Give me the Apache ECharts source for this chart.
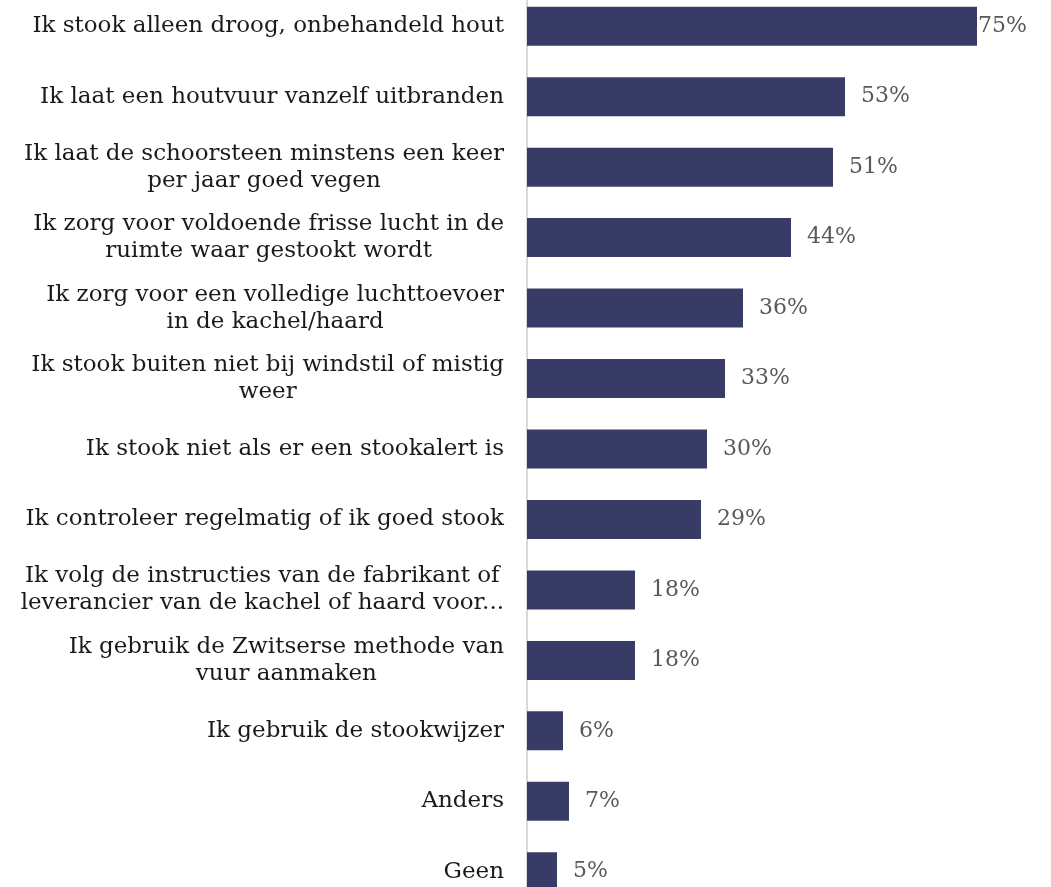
<!DOCTYPE html>
<html>
<head>
<meta charset="utf-8">
<script src="https://cdn.jsdelivr.net/npm/echarts@6/dist/echarts.min.js"></script>
<style>
html,body{margin:0;padding:0;background:#fff;overflow:hidden;width:1051px;height:887px;}
#chart{width:1127px;height:916px;position:absolute;left:0;top:-9px;}
</style>
</head>
<body>
<div id="chart"></div>
<script>
const categories = [
  "Ik stook alleen droog, onbehandeld hout",
  "Ik laat een houtvuur vanzelf uitbranden",
  "Ik laat de schoorsteen minstens een keer\nper jaar goed vegen",
  "Ik zorg voor voldoende frisse lucht in de\nruimte waar gestookt wordt",
  "Ik zorg voor een volledige luchttoevoer\nin de kachel/haard",
  "Ik stook buiten niet bij windstil of mistig\nweer",
  "Ik stook niet als er een stookalert is",
  "Ik controleer regelmatig of ik goed stook",
  "Ik volg de instructies van de fabrikant of\nleverancier van de kachel of haard voor...",
  "Ik gebruik de Zwitserse methode van\nvuur aanmaken",
  "Ik gebruik de stookwijzer",
  "Anders",
  "Geen"
];
const values = [75, 53, 51, 44, 36, 33, 30, 29, 18, 18, 6, 7, 5];

const FONT = "'DejaVu Serif', serif";
const chart = echarts.init(document.getElementById('chart'), null, {renderer: 'canvas'});

const seriesData = values.map((v, i) => i === 0
  ? {value: v, label: {distance: 1}}
  : v);

chart.setOption({
  animation: false,
  backgroundColor: '#ffffff',
  grid: {left: 527, right: 0, top: 0, bottom: 0, containLabel: false},
  xAxis: {
    type: 'value', min: 0, max: 100,
    show: false
  },
  yAxis: {
    type: 'category',
    inverse: true,
    data: categories,
    axisLine: {show: true, lineStyle: {color: '#d9d9d9', width: 2}},
    axisTick: {show: false},
    axisLabel: {
      margin: 23,
      align: 'right',
      color: '#1a1a1a',
      fontFamily: FONT,
      fontSize: 23,
      lineHeight: 27,
      formatter: function (v) {
        return v.split('\n').map(l => '{c|' + l + '}').join('\n');
      },
      rich: {
        c: {align: 'center', fontFamily: FONT, fontSize: 23, lineHeight: 27, color: '#1a1a1a'}
      }
    }
  },
  series: [{
    type: 'bar',
    data: seriesData,
    barWidth: 39,
    itemStyle: {color: '#383b65'},
    label: {
      show: true,
      position: 'right',
      distance: 16,
      formatter: '{c}%',
      color: '#595959',
      fontFamily: FONT,
      fontSize: 22
    }
  }]
});
</script>
</body>
</html>
